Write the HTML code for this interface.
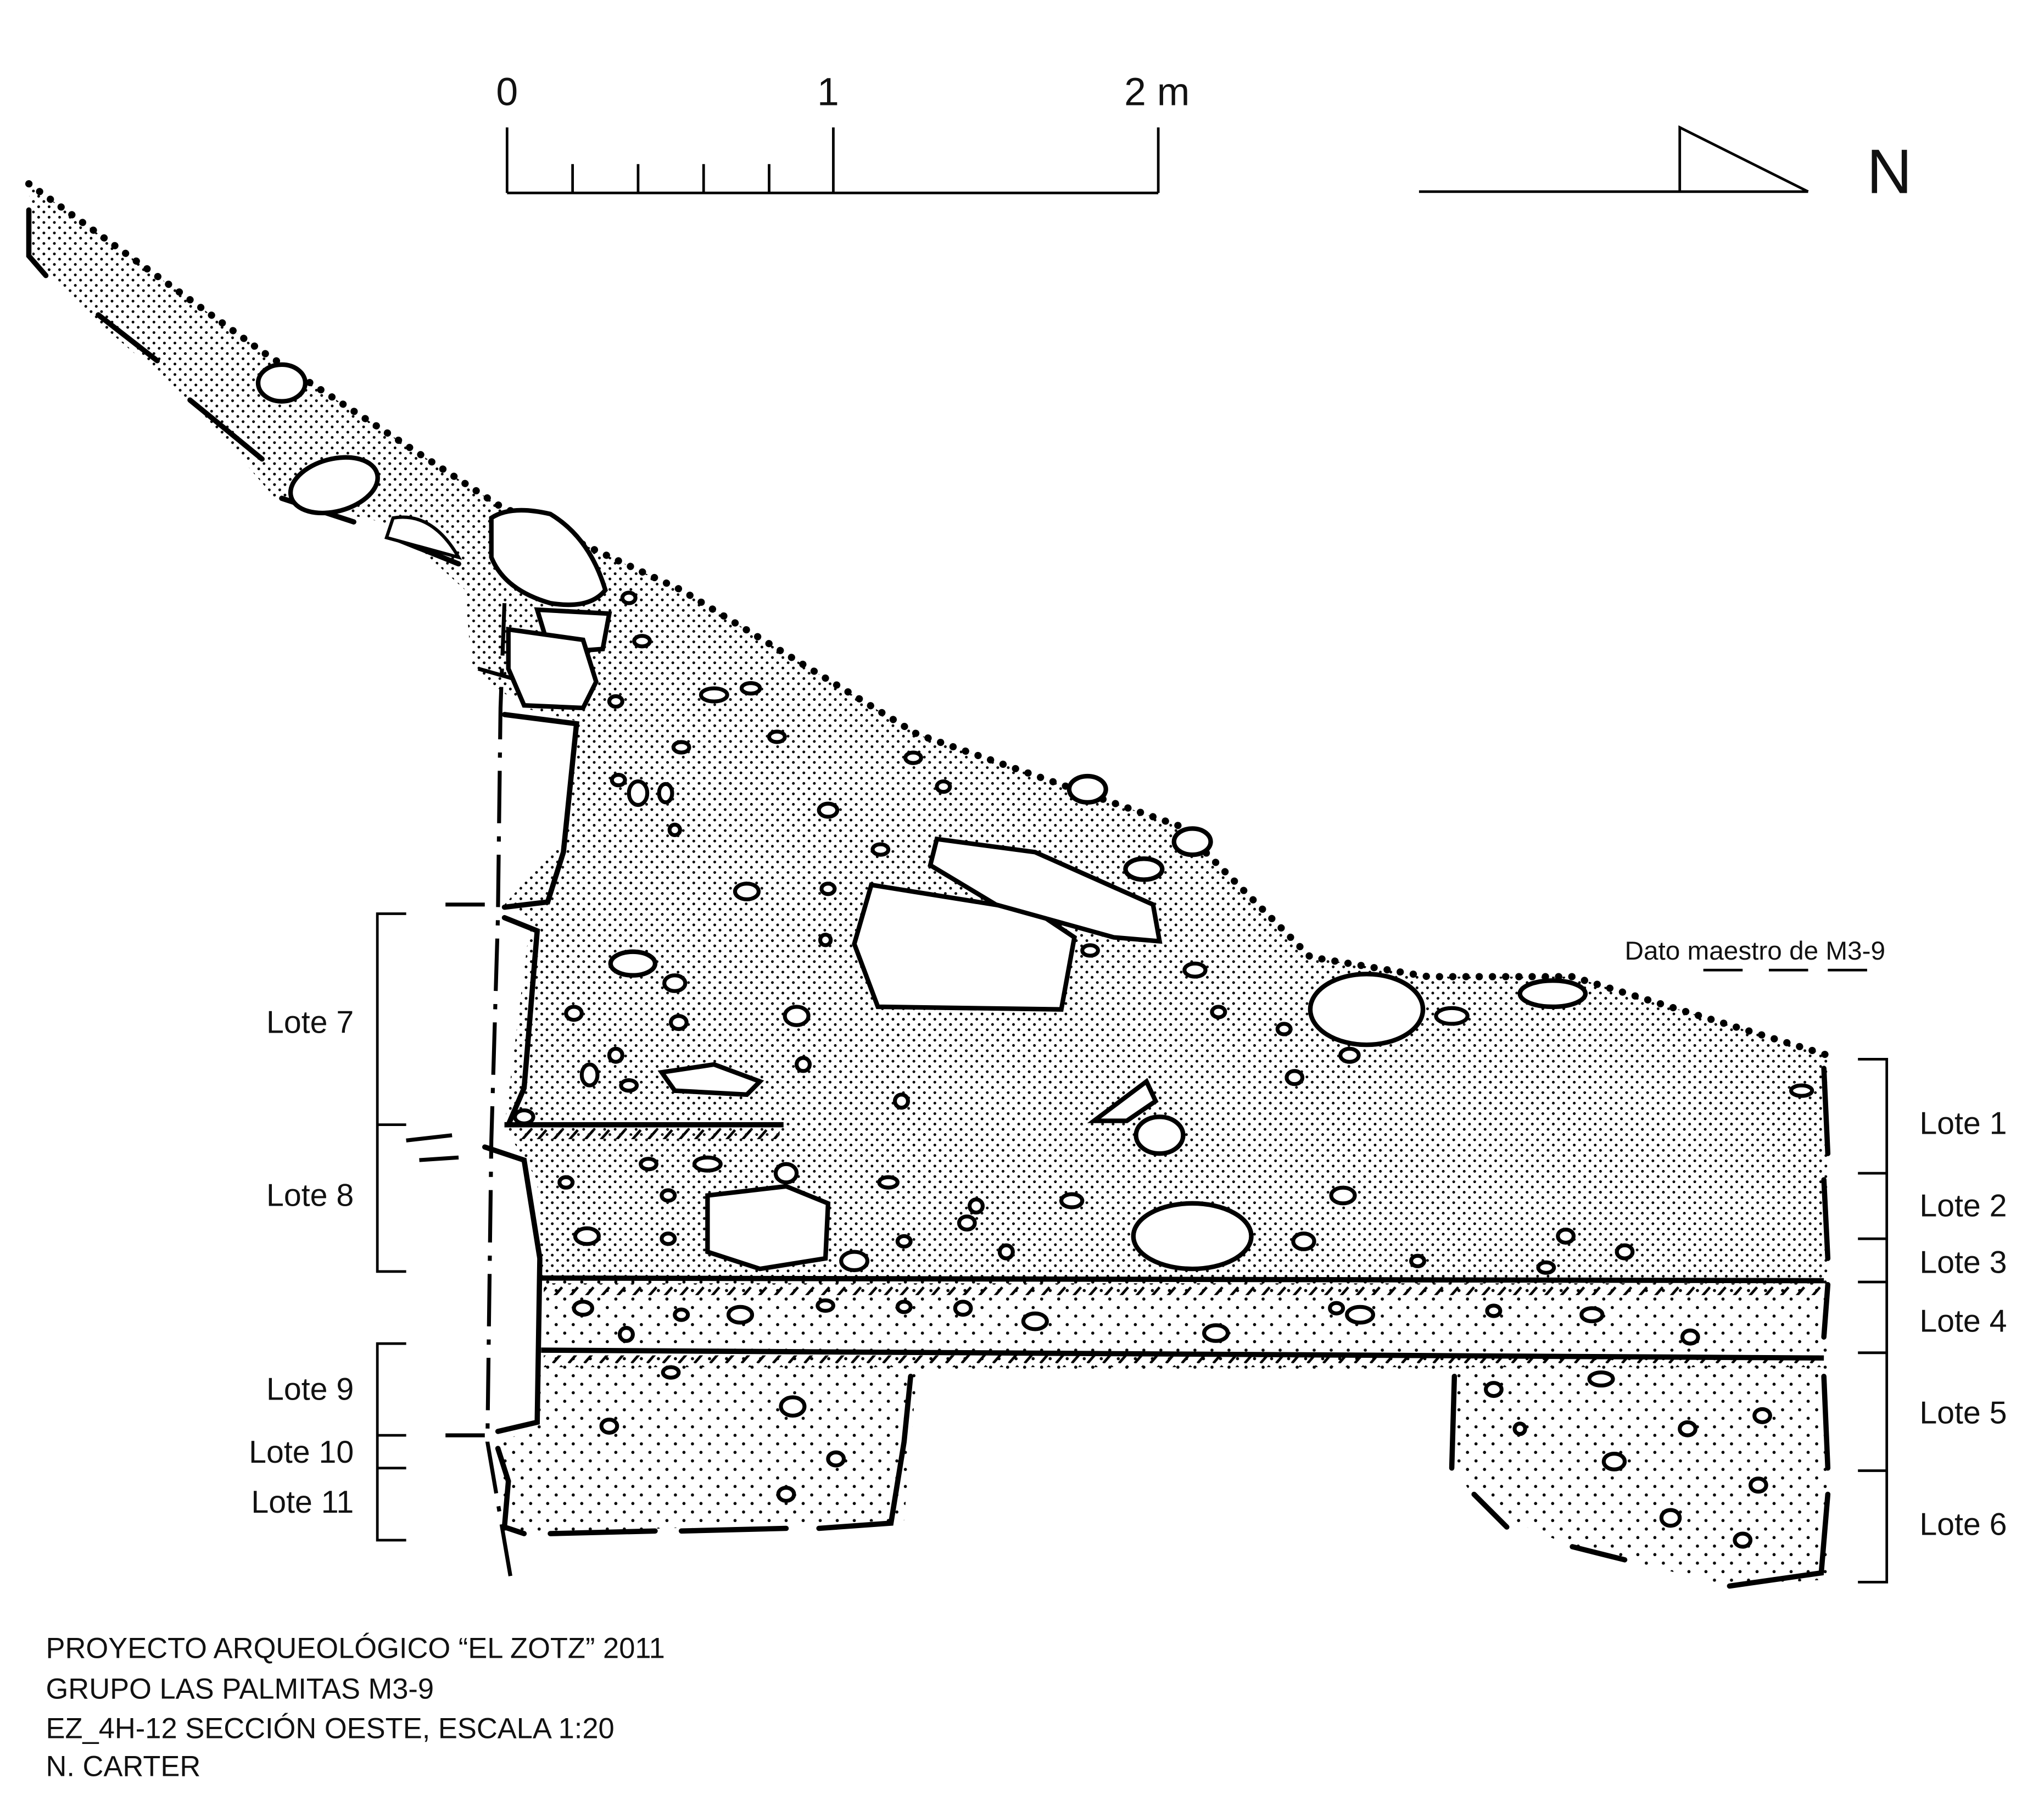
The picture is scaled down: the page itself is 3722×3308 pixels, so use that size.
<!DOCTYPE html>
<html><head><meta charset="utf-8"><style>
html,body{margin:0;padding:0;background:#fff;}
svg{display:block;}
text{font-family:"Liberation Sans",sans-serif;fill:#111;}
</style></head><body>
<svg width="3722" height="3308" viewBox="0 0 1560 1386" xmlns="http://www.w3.org/2000/svg">
<defs>
<pattern id="d1" width="8" height="8" patternUnits="userSpaceOnUse">
<circle cx="1.5" cy="1.5" r="1.05" fill="#000"/><circle cx="5.5" cy="5.5" r="1.05" fill="#000"/>
</pattern>
<pattern id="d2" width="13" height="13" patternUnits="userSpaceOnUse">
<circle cx="2" cy="3" r="1.2" fill="#000"/><circle cx="8.5" cy="9.5" r="1.2" fill="#000"/>
</pattern>
<pattern id="hatch" width="12" height="10" patternUnits="userSpaceOnUse">
<line x1="2" y1="10" x2="9" y2="2" stroke="#000" stroke-width="2"/>
</pattern>
</defs>
<rect width="1560" height="1386" fill="#fff"/>

<g stroke="#000" stroke-width="2" fill="none">
<line x1="387" y1="147" x2="884" y2="147"/>
<line x1="387" y1="97" x2="387" y2="147"/>
<line x1="636" y1="97" x2="636" y2="147"/>
<line x1="884" y1="97" x2="884" y2="147"/>
<line x1="437" y1="125" x2="437" y2="147"/>
<line x1="487" y1="125" x2="487" y2="147"/>
<line x1="537" y1="125" x2="537" y2="147"/>
<line x1="587" y1="125" x2="587" y2="147"/>
<line x1="1083" y1="146" x2="1380" y2="146"/>
<polyline points="1282,146 1282,97 1380,146"/>
</g>
<text x="387" y="80" font-size="30" text-anchor="middle">0</text>
<text x="632" y="80" font-size="30" text-anchor="middle">1</text>
<text x="883" y="80" font-size="30" text-anchor="middle">2 m</text>
<text x="1442" y="147" font-size="48" text-anchor="middle">N</text>

<path d="M22,140 L200,268 L380,385 L520,450 L700,560 L900,630 L950,680 L1000,730 L1090,745 L1200,745 L1395,805 L1395,975 L413,975 L410,900 L385,860 L405,700 L385,690 L430,640 L440,550 L400,540 L360,510 L355,450 L300,400 L210,380 L150,310 L80,250 L25,200 Z" fill="url(#d1)"/>
<path d="M413,975 L1395,975 L1395,1205 L1320,1210 L1200,1180 L1130,1150 L1110,1120 L1108,1045 L700,1045 L690,1160 L385,1170 L380,1100 L410,1090 Z" fill="url(#d2)"/>

<path d="M22,140 L200,268 L380,385 L520,450 L700,560 L900,630 L950,680 L1000,730 L1090,745 L1200,745 L1395,805" fill="none" stroke="#000" stroke-width="5.5" stroke-dasharray="0.1 10" stroke-linecap="round"/>

<g stroke="#000" stroke-width="4" fill="none" stroke-linecap="round">
<path d="M22,160 L22,195 L35,210"/>
<path d="M75,240 L120,275 M145,305 L200,350 M215,380 L270,398 M300,410 L350,430"/>
<path d="M385,545 L440,552 L430,650 L418,688 L385,692"/>
<path d="M385,700 L410,710 L400,830 L388,858"/>
<path d="M370,875 L400,885 L412,960 L410,1085 L380,1092"/>
<path d="M380,1105 L388,1130 L385,1165 L400,1170"/>
<path d="M420,1170 L500,1168 M520,1168 L600,1166 M625,1166 L680,1162 L690,1100 L695,1050"/>
<path d="M1110,1050 L1108,1120 M1125,1140 L1150,1165 M1200,1180 L1240,1190 M1320,1210 L1390,1200 L1395,1140 M1395,1120 L1392,1050 M1392,1020 L1395,980 M1395,960 L1392,900 M1395,880 L1392,815"/>
</g>
<path d="M385,460 L382,540 L380,700 L375,870 L372,1100 L390,1205" fill="none" stroke="#000" stroke-width="3" stroke-dasharray="40 10 4 10"/>
<path d="M310,870 L345,866 M320,885 L350,883 M340,690 L370,690 M340,1095 L370,1095 M365,510 L400,520" stroke="#000" stroke-width="3"/>

<g stroke="#000" stroke-width="4">
<line x1="385" y1="858" x2="598" y2="858"/>
<line x1="413" y1="975" x2="1392" y2="977"/>
<line x1="413" y1="1030" x2="1392" y2="1036"/>
</g>
<rect x="395" y="860" width="200" height="9" fill="url(#hatch)"/>
<rect x="415" y="979" width="975" height="9" fill="url(#hatch)"/>
<rect x="415" y="1034" width="975" height="9" fill="url(#hatch)"/>

<g fill="#fff" stroke="#000" stroke-width="3.5">
<ellipse cx="215" cy="292" rx="18" ry="14"/>
<ellipse cx="255" cy="370" rx="34" ry="20" transform="rotate(-15 255 370)"/>
<path d="M375,395 Q390,385 420,392 Q450,410 462,450 Q450,465 420,460 Q385,450 375,425 Z"/>
<path d="M410,465 L465,468 L460,495 L420,498 Z"/>
<path d="M388,480 L445,488 L455,520 L445,540 L400,538 L388,510 Z"/>
<path d="M300,395 Q330,390 350,425 L295,410 Z" stroke-width="2.5"/>
<path d="M665,675 L790,695 L820,715 L810,770 L670,768 L652,720 Z"/>
<path d="M715,640 L790,650 L880,690 L885,718 L850,715 L760,690 L710,660 Z"/>
<ellipse cx="1043" cy="770" rx="43" ry="27"/>
<path d="M540,912 L600,905 L632,918 L630,960 L580,968 L540,955 Z"/>
<ellipse cx="910" cy="943" rx="45" ry="25"/>
<ellipse cx="1185" cy="758" rx="25" ry="10"/>
<ellipse cx="885" cy="866" rx="18" ry="14"/>
<path d="M835,855 L875,825 L882,840 L860,855 Z"/>
<path d="M505,818 L545,812 L580,825 L570,835 L515,832 Z"/>
<ellipse cx="910" cy="642" rx="14" ry="10"/>
<ellipse cx="830" cy="602" rx="14" ry="10"/>
<ellipse cx="873" cy="663" rx="14" ry="8"/>
<ellipse cx="483" cy="735" rx="17" ry="9"/>
</g>
<g fill="#fff" stroke="#000" stroke-width="3">
<ellipse cx="480" cy="456" rx="5" ry="4"/><ellipse cx="490" cy="489" rx="6" ry="4"/>
<ellipse cx="545" cy="530" rx="10" ry="5"/><ellipse cx="573" cy="525" rx="7" ry="4"/>
<ellipse cx="470" cy="535" rx="5" ry="4"/><ellipse cx="520" cy="570" rx="6" ry="4"/>
<ellipse cx="593" cy="562" rx="6" ry="4"/><ellipse cx="472" cy="595" rx="5" ry="4"/>
<ellipse cx="487" cy="605" rx="7" ry="9"/><ellipse cx="508" cy="605" rx="5" ry="7"/>
<ellipse cx="515" cy="633" rx="4" ry="4"/><ellipse cx="632" cy="618" rx="7" ry="5"/>
<ellipse cx="697" cy="578" rx="6" ry="4"/><ellipse cx="720" cy="600" rx="5" ry="4"/>
<ellipse cx="672" cy="648" rx="6" ry="4"/><ellipse cx="570" cy="680" rx="9" ry="6"/>
<ellipse cx="632" cy="678" rx="5" ry="4"/><ellipse cx="630" cy="717" rx="4" ry="4"/>
<ellipse cx="515" cy="750" rx="8" ry="6"/><ellipse cx="438" cy="773" rx="6" ry="5"/>
<ellipse cx="518" cy="780" rx="6" ry="5"/><ellipse cx="608" cy="775" rx="9" ry="7"/>
<ellipse cx="470" cy="805" rx="5" ry="5"/><ellipse cx="450" cy="820" rx="6" ry="8"/>
<ellipse cx="480" cy="828" rx="6" ry="4"/><ellipse cx="613" cy="812" rx="5" ry="5"/>
<ellipse cx="688" cy="840" rx="5" ry="5"/><ellipse cx="832" cy="725" rx="6" ry="4"/>
<ellipse cx="912" cy="740" rx="8" ry="5"/><ellipse cx="930" cy="772" rx="5" ry="4"/>
<ellipse cx="980" cy="785" rx="5" ry="4"/><ellipse cx="1030" cy="805" rx="7" ry="5"/>
<ellipse cx="988" cy="822" rx="6" ry="5"/><ellipse cx="1108" cy="775" rx="12" ry="6"/>
<ellipse cx="1375" cy="832" rx="8" ry="4"/><ellipse cx="400" cy="852" rx="7" ry="5"/>
<ellipse cx="495" cy="888" rx="6" ry="4"/><ellipse cx="540" cy="888" rx="10" ry="5"/>
<ellipse cx="600" cy="895" rx="8" ry="7"/><ellipse cx="432" cy="902" rx="5" ry="4"/>
<ellipse cx="510" cy="912" rx="5" ry="4"/><ellipse cx="678" cy="902" rx="7" ry="4"/>
<ellipse cx="745" cy="920" rx="5" ry="5"/><ellipse cx="738" cy="933" rx="6" ry="5"/>
<ellipse cx="818" cy="916" rx="8" ry="5"/><ellipse cx="448" cy="943" rx="9" ry="6"/>
<ellipse cx="510" cy="945" rx="5" ry="4"/><ellipse cx="652" cy="962" rx="10" ry="7"/>
<ellipse cx="690" cy="947" rx="5" ry="4"/><ellipse cx="768" cy="955" rx="5" ry="5"/>
<ellipse cx="1025" cy="912" rx="9" ry="6"/><ellipse cx="995" cy="947" rx="8" ry="6"/>
<ellipse cx="1195" cy="943" rx="6" ry="5"/><ellipse cx="1240" cy="955" rx="6" ry="5"/>
<ellipse cx="1180" cy="967" rx="6" ry="4"/><ellipse cx="1082" cy="962" rx="5" ry="4"/>
<ellipse cx="445" cy="998" rx="7" ry="5"/><ellipse cx="520" cy="1003" rx="5" ry="4"/>
<ellipse cx="565" cy="1003" rx="9" ry="6"/><ellipse cx="630" cy="996" rx="6" ry="4"/>
<ellipse cx="690" cy="997" rx="5" ry="4"/><ellipse cx="735" cy="998" rx="6" ry="5"/>
<ellipse cx="790" cy="1008" rx="9" ry="6"/><ellipse cx="478" cy="1018" rx="5" ry="5"/>
<ellipse cx="928" cy="1017" rx="9" ry="6"/><ellipse cx="1038" cy="1003" rx="10" ry="6"/>
<ellipse cx="1020" cy="998" rx="5" ry="4"/><ellipse cx="1215" cy="1003" rx="8" ry="5"/>
<ellipse cx="1290" cy="1020" rx="6" ry="5"/><ellipse cx="1140" cy="1000" rx="5" ry="4"/>
<ellipse cx="512" cy="1047" rx="6" ry="4"/><ellipse cx="605" cy="1073" rx="9" ry="7"/>
<ellipse cx="465" cy="1088" rx="6" ry="5"/><ellipse cx="638" cy="1113" rx="6" ry="5"/>
<ellipse cx="600" cy="1140" rx="6" ry="5"/><ellipse cx="1222" cy="1052" rx="9" ry="5"/>
<ellipse cx="1140" cy="1060" rx="6" ry="5"/><ellipse cx="1345" cy="1080" rx="6" ry="5"/>
<ellipse cx="1288" cy="1090" rx="6" ry="5"/><ellipse cx="1232" cy="1115" rx="8" ry="6"/>
<ellipse cx="1342" cy="1133" rx="6" ry="5"/><ellipse cx="1275" cy="1158" rx="7" ry="6"/>
<ellipse cx="1330" cy="1175" rx="6" ry="5"/><ellipse cx="1160" cy="1090" rx="4" ry="4"/>
</g>

<g stroke="#000" stroke-width="2" fill="none">
<polyline points="310,697 288,697 288,970 310,970"/>
<line x1="288" y1="858" x2="310" y2="858"/>
<polyline points="310,1025 288,1025 288,1175 310,1175"/>
<line x1="288" y1="1095" x2="310" y2="1095"/>
<line x1="288" y1="1120" x2="310" y2="1120"/>
<polyline points="1418,808 1440,808 1440,1207 1418,1207"/>
<line x1="1418" y1="895" x2="1440" y2="895"/>
<line x1="1418" y1="945" x2="1440" y2="945"/>
<line x1="1418" y1="978" x2="1440" y2="978"/>
<line x1="1418" y1="1032" x2="1440" y2="1032"/>
<line x1="1418" y1="1122" x2="1440" y2="1122"/>
</g>
<g font-size="24">
<text x="270" y="788" text-anchor="end">Lote 7</text>
<text x="270" y="920" text-anchor="end">Lote 8</text>
<text x="270" y="1068" text-anchor="end">Lote 9</text>
<text x="270" y="1116" text-anchor="end">Lote 10</text>
<text x="270" y="1154" text-anchor="end">Lote 11</text>
<text x="1465" y="865">Lote 1</text>
<text x="1465" y="928">Lote 2</text>
<text x="1465" y="971">Lote 3</text>
<text x="1465" y="1016">Lote 4</text>
<text x="1465" y="1086">Lote 5</text>
<text x="1465" y="1171">Lote 6</text>
</g>
<text x="1240" y="732" font-size="20">Dato maestro de M3-9</text>
<path d="M1300,740 L1330,740 M1350,740 L1380,740 M1395,740 L1425,740" stroke="#000" stroke-width="2"/>

<g font-size="22">
<text x="35" y="1265">PROYECTO ARQUEOLÓGICO “EL ZOTZ” 2011</text>
<text x="35" y="1296">GRUPO LAS PALMITAS M3-9</text>
<text x="35" y="1326">EZ_4H-12 SECCIÓN OESTE, ESCALA 1:20</text>
<text x="35" y="1355">N. CARTER</text>
</g>
</svg>
</body></html>
